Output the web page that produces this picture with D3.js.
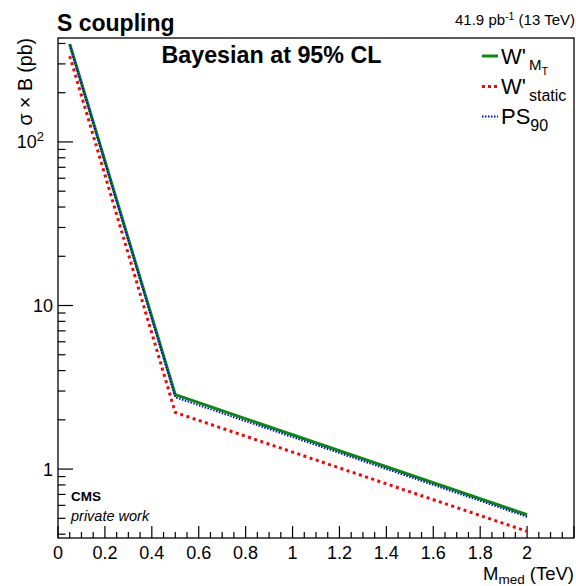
<!DOCTYPE html>
<html><head><meta charset="utf-8">
<script src="https://cdn.jsdelivr.net/npm/d3@7"></script>
<style>body{margin:0;background:#fff}svg{display:block;font-family:"Liberation Sans",Arial,sans-serif}</style>
</head><body>
<svg id="c" width="576" height="586"></svg>
<script>
const massTeV = [0.05, 0.5, 2.0];
const wprimeMT = [397, 2.85, 0.526];
const wprimeStatic = [335, 2.22, 0.416];
const ps90 = [393, 2.75, 0.511];
const xTicks = [0, 0.2, 0.4, 0.6, 0.8, 1, 1.2, 1.4, 1.6, 1.8, 2];
const xTickLabels = ["0", "0.2", "0.4", "0.6", "0.8", "1", "1.2", "1.4", "1.6", "1.8", "2"];
const yMajor = [1, 10, 100];

const svg = d3.select("#c");
const L = 58, R = 574, T = 38, B = 538;
const x = d3.scaleLinear().domain([0, 2.2]).range([L, R]);
const y = d3.scaleLog().domain([0.379, 432]).range([B, T]);

// frame
svg.append("rect").attr("x", L).attr("y", T).attr("width", R - L).attr("height", B - T)
  .attr("fill", "none").attr("stroke", "#000").attr("stroke-width", 1.3);

// x ticks
const xMinor = d3.range(0, 2.2001, 0.05).map(v => +v.toFixed(2));
svg.append("g").selectAll("line").data(xMinor).join("line")
  .attr("x1", d => x(d)).attr("x2", d => x(d))
  .attr("y1", B).attr("y2", d => (Math.abs(d * 5 - Math.round(d * 5)) < 1e-6) ? B - 12 : B - 6)
  .attr("stroke", "#000").attr("stroke-width", 1.2);
svg.append("g").selectAll("text").data(xTicks).join("text")
  .attr("x", d => x(d)).attr("y", 559).attr("text-anchor", "middle")
  .attr("font-size", 18).text((d, i) => xTickLabels[i]);

// y ticks
const yMinor = [];
for (const dec of [0.1, 1, 10, 100]) for (let k = 1; k <= 9; k++) {
  const v = dec * k; if (v >= 0.379 && v <= 432) yMinor.push(v);
}
svg.append("g").selectAll("line").data(yMinor).join("line")
  .attr("y1", d => y(d)).attr("y2", d => y(d))
  .attr("x1", L).attr("x2", d => yMajor.some(m => Math.abs(m - d) < 1e-9) ? L + 15 : L + 7.5)
  .attr("stroke", "#000").attr("stroke-width", 1.2);
const yl = svg.append("g").selectAll("text").data(yMajor).join("text")
  .attr("x", 53).attr("y", d => y(d) + 6.5).attr("text-anchor", "end").attr("font-size", 18);
yl.each(function(d) {
  const t = d3.select(this);
  if (d === 100) {
    t.attr("x", 44);
    t.append("tspan").text("10");
    t.append("tspan").attr("dy", -7).attr("font-size", 13).text("2");
  } else t.text(String(d));
});

// lines
const line = d3.line().x((d, i) => x(massTeV[i])).y(d => y(d));
svg.append("path").datum(wprimeMT).attr("d", line).attr("fill", "none")
  .attr("stroke", "#0a8a0a").attr("stroke-width", 3);
svg.append("path").datum(wprimeStatic).attr("d", line).attr("fill", "none")
  .attr("stroke", "#ff0000").attr("stroke-width", 3).attr("stroke-dasharray", "3,3.5");
svg.append("path").datum(ps90).attr("d", line).attr("fill", "none")
  .attr("stroke", "#0000ff").attr("stroke-width", 2).attr("stroke-dasharray", "1.5,1.5");

// titles
svg.append("text").attr("x", 57).attr("y", 31).attr("font-size", 23).attr("font-weight", "bold").text("S coupling");
svg.append("text").attr("x", 271.5).attr("y", 63).attr("font-size", 23.3).attr("font-weight", "bold")
  .attr("text-anchor", "middle").text("Bayesian at 95% CL");
const lumi = svg.append("text").attr("x", 575).attr("y", 25).attr("font-size", 15).attr("text-anchor", "end");
lumi.append("tspan").text("41.9 pb");
lumi.append("tspan").attr("dy", -5.5).attr("font-size", 10.5).text("-1");
lumi.append("tspan").attr("dy", 5.5).text(" (13 TeV)");

// y label
svg.append("text").attr("transform", "translate(32,38) rotate(-90)").attr("text-anchor", "end")
  .attr("font-size", 19.5).text("σ × B (pb)");

// x label
const xl = svg.append("text").attr("x", 574).attr("y", 580).attr("text-anchor", "end").attr("font-size", 18.5);
xl.append("tspan").text("M");
xl.append("tspan").attr("dy", 4).attr("font-size", 13.5).text("med");
xl.append("tspan").attr("dy", -4).text(" (TeV)");

// CMS
svg.append("text").attr("x", 71).attr("y", 501).attr("font-size", 13.5).attr("font-weight", "bold").text("CMS");
svg.append("text").attr("x", 71).attr("y", 521).attr("font-size", 14.5).attr("font-style", "italic").text("private work");

// legend
const leg = [
  {c: "#0a8a0a", w: 3, dash: null, y: 56},
  {c: "#ff0000", w: 3, dash: "3,3", y: 86.5},
  {c: "#0000ff", w: 2, dash: "1.5,1.5", y: 116.5}
];
leg.forEach(l => {
  const ln = svg.append("line").attr("x1", 482).attr("x2", 498).attr("y1", l.y).attr("y2", l.y)
    .attr("stroke", l.c).attr("stroke-width", l.w);
  if (l.dash) ln.attr("stroke-dasharray", l.dash);
});
const t1 = svg.append("text").attr("x", 501).attr("y", 64).attr("font-size", 22);
t1.append("tspan").text("W'");
t1.append("tspan").attr("dx", 3).attr("dy", 6).attr("font-size", 15).text("M");
t1.append("tspan").attr("dy", 5).attr("font-size", 11).text("T");
const t2 = svg.append("text").attr("x", 501).attr("y", 94).attr("font-size", 22);
t2.append("tspan").text("W'");
t2.append("tspan").attr("dx", 3).attr("dy", 6.5).attr("font-size", 16).text("static");
const t3 = svg.append("text").attr("x", 501).attr("y", 124).attr("font-size", 22);
t3.append("tspan").text("PS");
t3.append("tspan").attr("dy", 6.5).attr("font-size", 16).text("90");
</script>
</body></html>
